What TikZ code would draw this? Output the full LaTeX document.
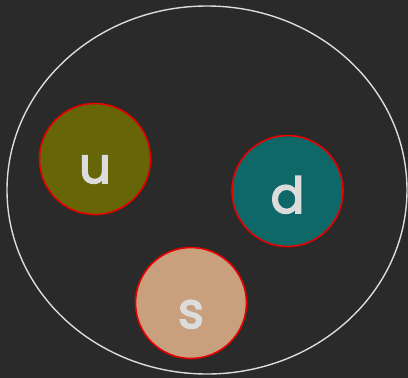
\documentclass[tikz,border=0pt]{standalone}
\usepackage{fontspec}
\setmainfont{Poppins}
\newfontfamily\quarkfont{Poppins}[FakeBold=3]
\definecolor{bgc}{HTML}{2A2A2A}
\definecolor{olivec}{HTML}{666608}
\definecolor{tealc}{HTML}{0F6868}
\definecolor{tanc}{HTML}{C8A07E}
\definecolor{ringc}{HTML}{E80000}
\definecolor{txtc}{HTML}{DCDCDC}
\begin{document}
\begin{tikzpicture}[x=1pt,y=-1pt,
  quark/.style={circle,draw=ringc,line width=1.6pt,minimum size=111pt,inner sep=0pt},
  lbl/.style={text=txtc,font=\fontsize{50}{50}\quarkfont,inner sep=0pt}]
\fill[bgc] (0,0) rectangle (408,378);
\useasboundingbox (0,0) rectangle (408,378);
\draw[txtc,line width=1.4pt] (207,190) ellipse [x radius=200,y radius=184];
\node[quark,fill=olivec] (u) at (95,159) {};
\node[quark,fill=tealc] (d) at (287.5,191) {};
\node[quark,fill=tanc] (s) at (191,303) {};
\node[lbl,anchor=base] (ut) at ([yshift=-24pt]u.center) {u};
\node[lbl,anchor=base] (dt) at ([yshift=-22pt]d.center) {d};
\node[lbl,anchor=base] (st) at ([yshift=-25pt]s.center) {s};
\end{tikzpicture}
\end{document}
